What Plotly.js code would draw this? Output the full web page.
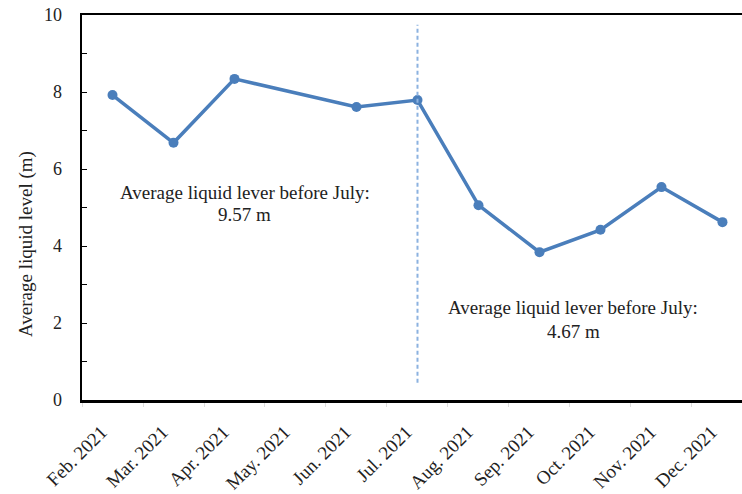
<!DOCTYPE html>
<html>
<head>
<meta charset="utf-8">
<script src="https://cdn.plot.ly/plotly-3.0.1.min.js"></script>
<style>html,body{margin:0;padding:0;background:#fff;}#chart{width:742px;height:494px;}</style>
</head>
<body>
<div id="chart"></div>
<script>
const months = ["Feb. 2021","Mar. 2021","Apr. 2021","May. 2021","Jun. 2021","Jul. 2021","Aug. 2021","Sep. 2021","Oct. 2021","Nov. 2021","Dec. 2021"];
const liquidLevel = [7.92, 6.68, 8.34, null, 7.61, 7.79, 5.06, 3.84, 4.42, 5.53, 4.62];
const dividerMonth = "Jul. 2021";
const dividerRange = [0.45, 9.75];
const yTitle = "Average liquid level (m)";
const noteBefore = ["Average liquid lever before July:", "9.57 m"];
const noteAfter = ["Average liquid lever before July:", "4.67 m"];

const serif = "Liberation Serif, Times New Roman, serif";
const txt = "#222";

const traces = [
  {
    x: months, y: liquidLevel, type: "scatter", mode: "lines+markers",
    connectgaps: true,
    line: {color: "#4a7ebb", width: 3.5},
    marker: {color: "#4a7ebb", size: 10},
    hoverinfo: "skip", showlegend: false
  },
  {
    x: [dividerMonth, dividerMonth], y: dividerRange, type: "scatter", mode: "lines",
    line: {color: "#8cb2e0", width: 2, dash: "4px,3px"},
    hoverinfo: "skip", showlegend: false
  }
];

const layout = {
  width: 742, height: 494,
  margin: {l: 82, r: 0, t: 15, b: 94},
  paper_bgcolor: "#fff", plot_bgcolor: "#fff",
  font: {family: serif, color: txt},
  showlegend: false,
  xaxis: {
    type: "category",
    range: [-0.5, 10.32],
    showgrid: false, zeroline: false,
    showline: true, linecolor: "#000", linewidth: 2.5, mirror: true,
    ticks: "outside", tickson: "boundaries", ticklen: 4, tickcolor: "#dddddd", tickwidth: 1,
    tickangle: -45,
    tickfont: {family: serif, size: 19, color: txt},
    ticklabelstandoff: 11,
    ticklabelshift: -11
  },
  yaxis: {
    range: [0, 10],
    dtick: 2, tick0: 0,
    showgrid: false, zeroline: false,
    showline: true, linecolor: "#000", linewidth: 2.5,
    ticks: "inside", ticklen: 5, tickcolor: "#000", tickwidth: 1,
    minor: {dtick: 1, ticks: "inside", ticklen: 5, tickcolor: "#000", tickwidth: 1, showgrid: false},
    tickfont: {family: serif, size: 18, color: txt},
    ticklabelstandoff: 14
  },
  annotations: [
    {x: -0.085, y: 0.405, xref: "paper", yref: "paper", xanchor: "center", yanchor: "middle",
     text: yTitle, textangle: -90, showarrow: false,
     font: {family: serif, size: 19, color: txt}},
    {x: 2.17, y: 5.4, xref: "x", yref: "y", text: noteBefore[0], showarrow: false, font: {family: serif, size: 19, color: txt}},
    {x: 2.17, y: 4.81, xref: "x", yref: "y", text: noteBefore[1], showarrow: false, font: {family: serif, size: 19, color: txt}},
    {x: 7.55, y: 2.39, xref: "x", yref: "y", text: noteAfter[0], showarrow: false, font: {family: serif, size: 19, color: txt}},
    {x: 7.55, y: 1.79, xref: "x", yref: "y", text: noteAfter[1], showarrow: false, font: {family: serif, size: 19, color: txt}}
  ]
};

Plotly.newPlot("chart", traces, layout, {displayModeBar: false, staticPlot: true});
</script>
</body>
</html>
